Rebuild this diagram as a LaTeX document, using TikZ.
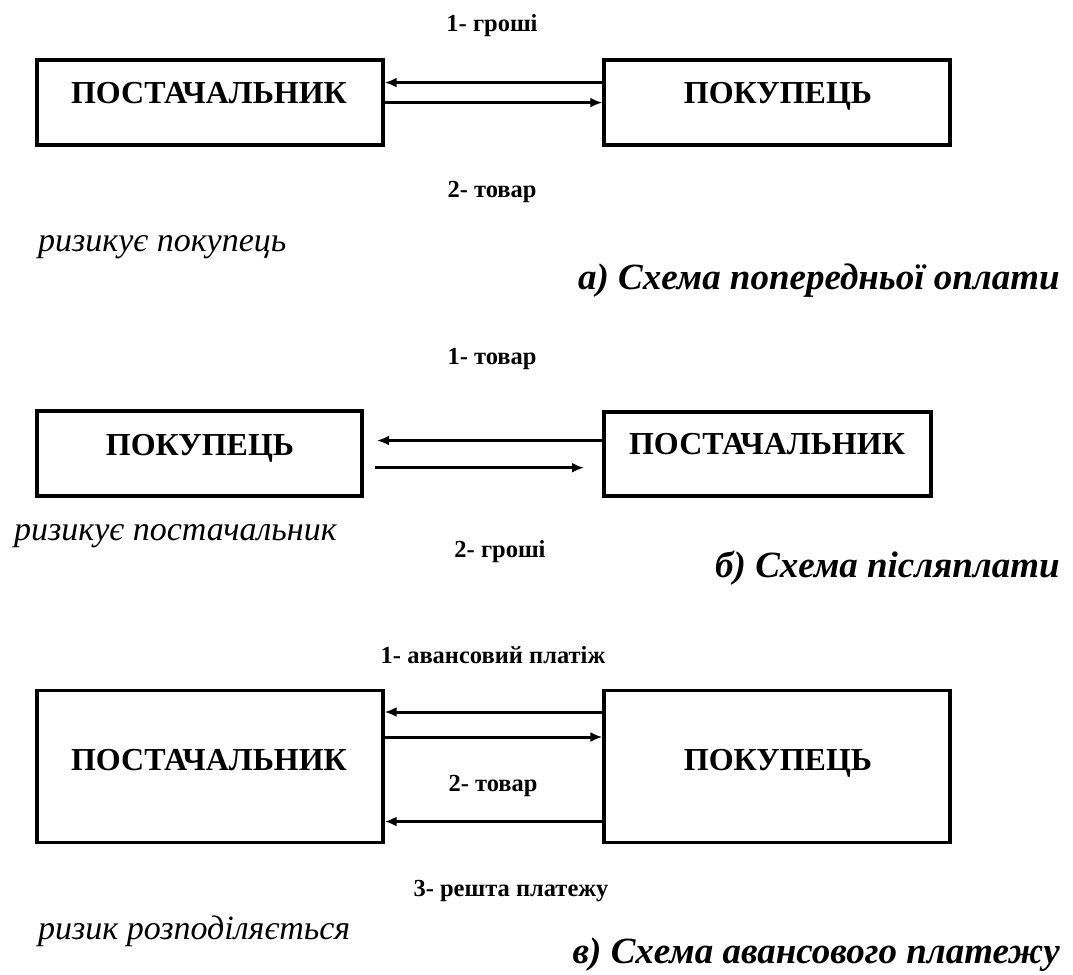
\documentclass[tikz,border=0pt]{standalone}
\usepackage{fontspec}
\setmainfont{Liberation Serif}
\usetikzlibrary{arrows.meta}
\tikzset{
  party/.style={draw, line width=3.4pt, inner sep=0pt},
  partytext/.style={font=\fontsize{32}{32}\selectfont\bfseries, inner sep=0pt, text height=22pt, text depth=0pt},
  flowlabel/.style={font=\fontsize{24.5}{24.5}\selectfont\bfseries, inner sep=0pt, text height=16pt, text depth=0pt},
  risk/.style={font=\fontsize{34}{34}\selectfont\itshape, inner sep=0pt, anchor=west, text height=16pt, text depth=0pt},
  caption/.style={font=\fontsize{37}{37}\selectfont\bfseries\itshape, inner sep=0pt, anchor=east, text height=18pt, text depth=0pt},
  arr/.style={line width=3pt, -{Latex[length=12pt,width=10pt]}}
}
\begin{document}
\begin{tikzpicture}[x=1pt,y=-1pt]
\useasboundingbox (0,0) rectangle (1073,974);
% ---- a)
\node[party, minimum width=346pt, minimum height=85pt] (lA) at (210,102.5) {};
\node[party, minimum width=346pt, minimum height=85pt] (rA) at (777,102.5) {};
\node[partytext] (lAt) at (209,92.5) {ПОСТАЧАЛЬНИК};
\node[partytext] (rAt) at (778,92.5) {ПОКУПЕЦЬ};
\draw[arr] (rA.west |- 0,82.6) -- (lA.east |- 0,82.6);
\draw[arr] (lA.east |- 0,102.6) -- (rA.west |- 0,102.6);
\node[flowlabel] (fA1) at (492,24) {1- гроші};
\node[flowlabel] (fA2) at (492,189) {2- товар};
\node[risk] (riskA) at (38,243) {ризикує покупець};
\node[caption] (capA) at (1060,280) {а) Схема попередньої оплати};
% ---- б)
\node[party, minimum width=325pt, minimum height=85pt] (lB) at (199.5,453.5) {};
\node[party, minimum width=327pt, minimum height=84pt] (rB) at (767.3,454) {};
\node[partytext] (lBt) at (200,444) {ПОКУПЕЦЬ};
\node[partytext] (rBt) at (767,443) {ПОСТАЧАЛЬНИК};
\coordinate (bTopEnd) at (377,440.5);
\coordinate (bBotStart) at (375,467.7);
\coordinate (bBotEnd) at (584,467.7);
\draw[arr] (rB.west |- bTopEnd) -- (bTopEnd);
\draw[arr] (bBotStart) -- (bBotEnd);
\node[flowlabel] (fB1) at (492,356) {1- товар};
\node[flowlabel] (fB2) at (500,549) {2- гроші};
\node[risk] (riskB) at (14,532) {ризикує постачальник};
\node[caption] (capB) at (1060,568) {б) Схема післяплати};
% ---- в)
\node[party, minimum width=346pt, minimum height=152pt] (lC) at (210,766.5) {};
\node[party, minimum width=346pt, minimum height=152pt] (rC) at (777,766.5) {};
\node[partytext] (lCt) at (209,759) {ПОСТАЧАЛЬНИК};
\node[partytext] (rCt) at (778,759) {ПОКУПЕЦЬ};
\draw[arr] (rC.west |- 0,712) -- (lC.east |- 0,712);
\draw[arr] (lC.east |- 0,737) -- (rC.west |- 0,737);
\draw[arr] (rC.west |- 0,821.5) -- (lC.east |- 0,821.5);
\node[flowlabel] (fC1) at (493,655) {1- авансовий платіж};
\node[flowlabel] (fC2) at (493,783) {2- товар};
\node[flowlabel] (fC3) at (511,888) {3- решта платежу};
\node[risk] (riskC) at (38,931) {ризик розподіляється};
\node[caption] (capC) at (1060,954) {в) Схема авансового платежу};
\end{tikzpicture}
\end{document}
